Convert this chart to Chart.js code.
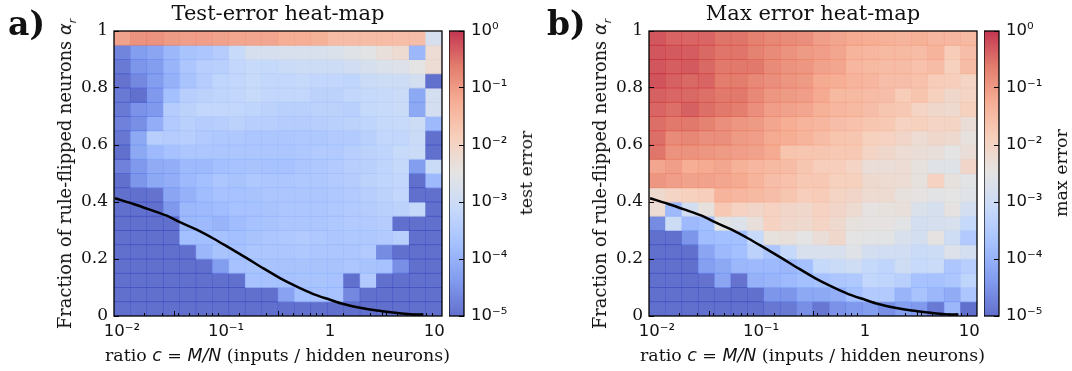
<!DOCTYPE html>
<html>
<head>
<meta charset="utf-8">
<script src="https://cdn.jsdelivr.net/npm/chart.js@4/dist/chart.umd.min.js"></script>
<style>
html, body { margin: 0; background: #fff; width: 1072px; height: 371px; overflow: hidden; }
canvas { position: absolute; top: 0; }
.t { position: absolute; white-space: nowrap; color: #111; font-family: "DejaVu Serif"; font-size: 17.4px; line-height: 20px; }
.m { font-family: "DejaVu Sans"; font-style: italic; }
.tag { font-weight: bold; font-size: 33px; line-height: 38px; top: 5px; }
.rot { transform: translate(-50%, -50%) rotate(-90deg); }
.ylab { font-size: 17.8px; }
sub { font-size: 11px; line-height: 0; }
</style>
</head>
<body>
<canvas id="mapA" width="420" height="371" style="left:40px"></canvas>
<canvas id="barA" width="75" height="371" style="left:449px"></canvas>
<canvas id="mapB" width="420" height="371" style="left:575px"></canvas>
<canvas id="barB" width="75" height="371" style="left:984px"></canvas>

<div class="t tag" style="left:8px">a)</div>
<div class="t tag" style="left:547px">b)</div>
<div class="t rot ylab" style="left:65px;top:174px">Fraction of rule-flipped neurons <span class="m">α<sub>r</sub></span></div>
<div class="t rot ylab" style="left:600px;top:174px">Fraction of rule-flipped neurons <span class="m">α<sub>r</sub></span></div>
<div class="t" style="left:105px;top:345px">ratio <span class="m">c</span> = <span class="m">M/N</span> (inputs / hidden neurons)</div>
<div class="t" style="left:640px;top:345px">ratio <span class="m">c</span> = <span class="m">M/N</span> (inputs / hidden neurons)</div>
<div class="t rot" style="left:526px;top:173px">test error</div>
<div class="t rot" style="left:1061px;top:173px">max error</div>

<script>
// log10 of the error, top row (alpha = 1) first, left column first
var testRows = [
  [-1.1,-0.9,-0.9,-1,-1.05,-1.05,-1.1,-1.15,-1.15,-1.15,-1.25,-1.25,-1.3,-1.5,-1.5,-1.5,-1.5,-1.55,-1.55,-2.8],
  [-4.7,-4.35,-4.2,-3.9,-3.65,-3.6,-3.45,-3.1,-2.8,-2.8,-2.75,-2.75,-2.75,-2.7,-2.6,-2.55,-2.35,-2.2,-3.9,-2.25],
  [-4.85,-4.45,-4.35,-3.95,-3.6,-3.4,-3.35,-3.2,-3.1,-3.15,-3.05,-3,-3,-3,-2.9,-2.8,-2.7,-2.65,-2.5,-2.25],
  [-4.95,-4.65,-4.35,-4,-3.65,-3.45,-3.25,-3.2,-3.1,-3.2,-3.2,-3.15,-3.2,-3.2,-3.25,-3.05,-3,-3,-2.85,-5],
  [-4.85,-5,-4.4,-3.75,-3.4,-3.3,-3.25,-3.2,-3.1,-3.2,-3.2,-3.2,-3.3,-3.3,-3.2,-3.15,-3.1,-3.05,-4.15,-2.85],
  [-4.85,-4.5,-4.4,-3.45,-3.3,-3.2,-3.2,-3.2,-3.25,-3.3,-3.35,-3.35,-3.3,-3.3,-3.35,-3.15,-3.1,-3.05,-4.15,-2.85],
  [-4.75,-4.55,-4.05,-3.5,-3.35,-3.45,-3.4,-3.3,-3.4,-3.4,-3.45,-3.45,-3.4,-3.35,-3.3,-3.25,-3.15,-3.1,-3,-3.85],
  [-4.9,-4.15,-3.4,-3.45,-3.4,-3.5,-3.55,-3.55,-3.6,-3.6,-3.6,-3.55,-3.55,-3.5,-3.5,-3.35,-3.2,-3.2,-3.05,-5],
  [-5,-4.15,-3.85,-3.7,-3.6,-3.6,-3.6,-3.6,-3.6,-3.6,-3.6,-3.55,-3.5,-3.5,-3.4,-3.3,-3.25,-3.1,-3.05,-5],
  [-4.75,-4.4,-4.1,-4.05,-3.85,-3.85,-3.75,-3.7,-3.65,-3.7,-3.7,-3.6,-3.55,-3.5,-3.4,-3.35,-3.25,-3.15,-4.35,-3.05],
  [-5,-4.45,-4.15,-4.05,-3.85,-3.75,-3.6,-3.65,-3.55,-3.6,-3.6,-3.55,-3.55,-3.5,-3.45,-3.3,-3.25,-3.2,-5,-3.85],
  [-5,-5,-4.95,-4.2,-4,-3.8,-3.7,-3.7,-3.65,-3.6,-3.6,-3.6,-3.6,-3.55,-3.5,-3.4,-3.3,-3.2,-5,-5],
  [-5,-5,-5,-4.4,-3.9,-3.85,-3.8,-3.7,-3.7,-3.65,-3.6,-3.6,-3.6,-3.55,-3.5,-3.45,-3.35,-3.3,-3.15,-5],
  [-5,-5,-5,-5,-3.9,-3.85,-3.95,-3.8,-3.7,-3.65,-3.6,-3.6,-3.6,-3.55,-3.5,-3.5,-3.45,-5,-5,-5],
  [-5,-5,-5,-5,-3.75,-3.75,-3.7,-3.75,-3.65,-3.6,-3.55,-3.5,-3.55,-3.6,-3.55,-3.55,-3.5,-3.35,-5,-5],
  [-5,-5,-5,-5,-5,-3.9,-3.65,-3.7,-3.6,-3.6,-3.6,-3.55,-3.6,-3.6,-3.6,-3.5,-4.6,-5,-5,-5],
  [-5,-5,-5,-5,-5,-5,-4.35,-3.7,-3.65,-3.65,-3.65,-3.65,-3.65,-3.65,-3.6,-3.65,-3.7,-4.55,-5,-5],
  [-5,-5,-5,-5,-5,-5,-5,-5,-3.7,-3.7,-3.7,-3.65,-3.65,-3.7,-5,-3.5,-5,-5,-5,-5],
  [-5,-5,-5,-5,-5,-5,-5,-5,-5,-5,-4.25,-3.75,-3.7,-3.7,-4.65,-5,-5,-5,-5,-5],
  [-5,-5,-5,-5,-5,-5,-5,-5,-5,-5,-5,-5,-5,-5,-5,-5,-5,-5,-5,-5]
];
var maxRows = [
  [-0.28,-0.4,-0.42,-0.42,-0.54,-0.55,-0.68,-0.75,-0.8,-0.85,-1.05,-1.15,-1.2,-1.25,-1.3,-1.35,-1.3,-1.4,-1.4,-1.45],
  [-0.28,-0.32,-0.34,-0.44,-0.56,-0.56,-0.7,-0.8,-0.9,-1,-1.05,-1.15,-1.35,-1.4,-1.45,-1.45,-1.5,-1.35,-1.8,-1.55],
  [-0.28,-0.35,-0.32,-0.44,-0.6,-0.58,-0.6,-0.8,-0.9,-0.95,-1.1,-1.15,-1.4,-1.45,-1.5,-1.5,-1.6,-1.5,-1.9,-1.5],
  [-0.26,-0.38,-0.44,-0.4,-0.62,-0.62,-0.78,-0.85,-0.92,-1,-1.2,-1.25,-1.35,-1.4,-1.55,-1.55,-1.6,-1.8,-1.85,-2],
  [-0.38,-0.42,-0.44,-0.52,-0.6,-0.6,-0.78,-0.95,-1,-1.05,-1.2,-1.45,-1.45,-1.5,-1.55,-1.8,-1.65,-1.9,-2.1,-2],
  [-0.42,-0.5,-0.38,-0.5,-0.6,-0.65,-0.85,-1.05,-1.1,-1.15,-1.3,-1.4,-1.45,-1.55,-1.7,-1.75,-2,-2.1,-2.15,-1.9],
  [-0.5,-0.6,-0.6,-0.7,-0.85,-0.95,-1,-1.15,-1.25,-1.35,-1.4,-1.55,-1.6,-1.7,-1.75,-1.95,-1.9,-2,-2,-2.3],
  [-0.5,-0.8,-0.75,-0.85,-0.85,-1,-1.05,-1.2,-1.25,-1.35,-1.5,-1.65,-1.7,-1.9,-1.95,-2.05,-2.25,-2.1,-2.15,-2.4],
  [-0.55,-0.9,-0.9,-0.95,-1,-1.05,-1.1,-1.2,-1.65,-1.7,-1.7,-1.75,-1.75,-2,-2.1,-2.25,-2.3,-2.35,-2.5,-2.3],
  [-1.15,-1.05,-1.25,-1.2,-1.15,-1.3,-1.4,-1.45,-1.5,-1.7,-1.85,-1.85,-2,-2.3,-2.3,-2.25,-2.4,-2.6,-2.6,-2.05],
  [-0.95,-1.05,-1.1,-1.1,-1.15,-1.2,-1.35,-1.55,-1.6,-1.75,-1.75,-1.9,-1.9,-2.15,-2.2,-2.25,-2.4,-1.95,-2.4,-2.55],
  [-2.15,-2,-1.9,-1.85,-1.35,-1.4,-1.45,-1.55,-1.7,-1.85,-1.8,-2,-2.05,-2.2,-2.2,-2.4,-2.45,-2.55,-2.5,-2.6],
  [-2.25,-3.85,-2.85,-2.4,-1.75,-1.95,-2.05,-1.95,-2.05,-2.1,-1.95,-2.05,-2.2,-2.45,-2.4,-2.35,-2.7,-2.8,-2.45,-2.85],
  [-4.6,-3,-3.85,-3.75,-2.55,-2.65,-2.35,-1.95,-2.1,-2.15,-2,-2.15,-2.4,-2.45,-2.45,-2.55,-2.85,-2.8,-2.75,-3.15],
  [-5,-5,-4.45,-3.8,-3.75,-3.75,-3.1,-2.4,-2.35,-2.5,-2.3,-2.1,-2.5,-2.55,-2.55,-2.75,-2.85,-2.45,-2.95,-3.5],
  [-5,-5,-5,-4.2,-3.85,-3.75,-3.3,-3.6,-3.15,-2.75,-2.75,-2.75,-2.6,-2.85,-2.9,-2.9,-3.05,-3,-2.65,-2.85],
  [-5,-5,-5,-4.3,-4.15,-3.9,-3.85,-3.85,-3.9,-3.75,-3.15,-3.05,-2.95,-3.15,-3.25,-2.95,-3.1,-3.05,-3.6,-3.4],
  [-5,-5,-5,-4.95,-4.2,-4.95,-4,-3.95,-3.85,-3.75,-3.7,-3.6,-3.55,-3.2,-3.25,-3.35,-3.7,-3.7,-3.6,-3.25],
  [-5,-5,-5,-5,-5,-5,-5,-4.45,-4.45,-4.15,-4.15,-4.05,-3.75,-3.5,-3.5,-3.95,-3.65,-3.9,-4.1,-3.6],
  [-5,-5,-5,-5,-5,-5,-5,-4.9,-4.85,-4.55,-4.9,-4.5,-4.4,-4.35,-4.55,-4.3,-4.4,-4.85,-3.9,-5]
];

// black curve
var curveC = [0.00857,0.01285,0.01858,0.0269,0.0361,0.0522,0.0755,0.109,0.158,0.229,0.33,0.479,0.69,1,1.34,1.94,2.81,4.06,5.87,7.89];
var curveAlpha = [0.413,0.393,0.373,0.352,0.329,0.303,0.272,0.238,0.203,0.167,0.133,0.103,0.077,0.057,0.042,0.029,0.019,0.012,0.006,0.005];

var xTicks = [0.01, 0.1, 1, 10];
var xTickLabels = ['10⁻²', '10⁻¹', '1', '10'];
var xMinorTicks = [0.02,0.03,0.04,0.05,0.06,0.07,0.08,0.09,0.2,0.3,0.4,0.5,0.6,0.7,0.8,0.9,2,3,4,5,6,7,8,9];
var yTicks = [0, 0.2, 0.4, 0.6, 0.8, 1];
var yTickLabels = ['0', '0.2', '0.4', '0.6', '0.8', '1'];
var cbarTicks = [1e-5, 1e-4, 1e-3, 1e-2, 1e-1, 1];
var cbarTickLabels = ['10⁻⁵', '10⁻⁴', '10⁻³', '10⁻²', '10⁻¹', '10⁰'];

// coolwarm
var cmapStops = [[59,76,192],[98,130,234],[141,176,254],[185,208,249],[221,221,221],[245,196,172],[244,154,123],[220,93,74],[180,4,38]];
var cellAlpha = 0.8;
var seam = 0.0016;

function cmap(t) {
  var p = Math.min(Math.max(t, 0), 1) * (cmapStops.length - 1);
  var i = Math.min(Math.floor(p), cmapStops.length - 2);
  var a = cmapStops[i], b = cmapStops[i + 1], f = p - i;
  return 'rgba(' + Math.round(a[0] + (b[0] - a[0]) * f) + ',' + Math.round(a[1] + (b[1] - a[1]) * f) + ',' +
    Math.round(a[2] + (b[2] - a[2]) * f) + ',' + cellAlpha + ')';
}

var framePlugin = {
  id: 'frame',
  afterDraw: function (chart) {
    var a = chart.chartArea, ctx = chart.ctx;
    ctx.save();
    ctx.strokeStyle = '#000';
    ctx.lineWidth = 1.3;
    ctx.strokeRect(a.left, a.top, a.right - a.left, a.bottom - a.top);
    ctx.restore();
  }
};

function tickAxis(values, labels, font, size, len, pad) {
  return {
    afterBuildTicks: function (s) { s.ticks = values.map(function (v) { return { value: v }; }); },
    grid: { drawOnChartArea: false, tickLength: len, tickWidth: 1, tickColor: '#000', z: 1 },
    border: { display: false },
    ticks: {
      display: labels !== null, autoSkip: false, maxRotation: 0, minRotation: 0, padding: pad, color: '#111',
      font: { family: font, size: size },
      callback: function (v, i) { return labels ? labels[i] : ''; }
    }
  };
}

function makePanel(id, rows, title) {
  var n = rows.length;
  var cols = rows[0].map(function (v, i) { return String(i); });
  var datasets = rows.map(function (row, r) {
    return {
      type: 'bar', xAxisID: 'cols', yAxisID: 'y', order: 2, grouped: false,
      barPercentage: 1.035, categoryPercentage: 1,
      data: row.map(function () { return [1 - (r + 1) / n - seam, 1 - r / n + seam]; }),
      backgroundColor: row.map(function (e) { return cmap((e + 5) / 5); }),
      borderWidth: 0
    };
  });
  datasets.push({
    type: 'line', xAxisID: 'x', yAxisID: 'y', order: 1,
    data: curveC.map(function (c, i) { return { x: c, y: curveAlpha[i] }; }),
    borderColor: '#000', borderWidth: 2.5, pointRadius: 0, cubicInterpolationMode: 'monotone', fill: false
  });

  var xAxis = tickAxis(xTicks, xTickLabels, 'DejaVu Sans', 16.5, -5, 11);
  xAxis.type = 'logarithmic'; xAxis.position = 'bottom'; xAxis.min = 0.00838; xAxis.max = 11.9; xAxis.bounds = 'data';
  xAxis.afterFit = function (s) { s.height = 55; };
  var xMinor = tickAxis(xMinorTicks, null, 'DejaVu Sans', 16.5, -3, 0);
  xMinor.type = 'logarithmic'; xMinor.position = 'bottom'; xMinor.min = 0.00838; xMinor.max = 11.9; xMinor.bounds = 'data';
  xMinor.weight = -1;
  xMinor.afterFit = function (s) { s.height = 0; };
  var yAxis = tickAxis(yTicks, yTickLabels, 'DejaVu Serif', 17, -5, 11);
  yAxis.type = 'linear'; yAxis.position = 'left'; yAxis.min = 0; yAxis.max = 1;
  yAxis.afterFit = function (s) { s.width = 74; };

  new Chart(document.getElementById(id), {
    type: 'bar',
    data: { labels: cols, datasets: datasets },
    plugins: [framePlugin],
    options: {
      responsive: false, animation: false,
      layout: { autoPadding: false, padding: { right: 18 } },
      plugins: {
        legend: { display: false }, tooltip: { enabled: false },
        title: {
          display: true, text: title, fullSize: false, color: '#111',
          font: { family: 'DejaVu Serif', size: 21, weight: 'normal', lineHeight: 1.2 },
          padding: { top: 2, bottom: 3.8 }
        }
      },
      scales: {
        cols: { type: 'category', display: false, offset: true, position: 'bottom' },
        x: xAxis, xMinor: xMinor, y: yAxis
      }
    }
  });
}

function makeColorbar(id) {
  var yAxis = tickAxis(cbarTicks, cbarTickLabels, 'DejaVu Sans', 16.5, -5, 12);
  yAxis.type = 'logarithmic'; yAxis.position = 'right'; yAxis.min = 1e-5; yAxis.max = 1; yAxis.bounds = 'data';
  yAxis.afterFit = function (s) { s.width = 60; };

  new Chart(document.getElementById(id), {
    type: 'bar',
    data: {
      labels: ['err'],
      datasets: [{
        data: [[1e-5, 1]], barPercentage: 1, categoryPercentage: 1, borderWidth: 0,
        backgroundColor: function (c) {
          var a = c.chart.chartArea;
          if (!a) return 'transparent';
          var g = c.chart.ctx.createLinearGradient(0, a.bottom, 0, a.top);
          cmapStops.forEach(function (s, i) { g.addColorStop(i / (cmapStops.length - 1), cmap(i / (cmapStops.length - 1))); });
          return g;
        }
      }]
    },
    plugins: [framePlugin],
    options: {
      responsive: false, animation: false,
      layout: { autoPadding: false, padding: { top: 31, bottom: 55 } },
      plugins: { legend: { display: false }, tooltip: { enabled: false } },
      scales: { x: { display: false, offset: true }, y: yAxis }
    }
  });
}

makePanel('mapA', testRows, 'Test-error heat-map');
makeColorbar('barA');
makePanel('mapB', maxRows, 'Max error heat-map');
makeColorbar('barB');
</script>
</body>
</html>
